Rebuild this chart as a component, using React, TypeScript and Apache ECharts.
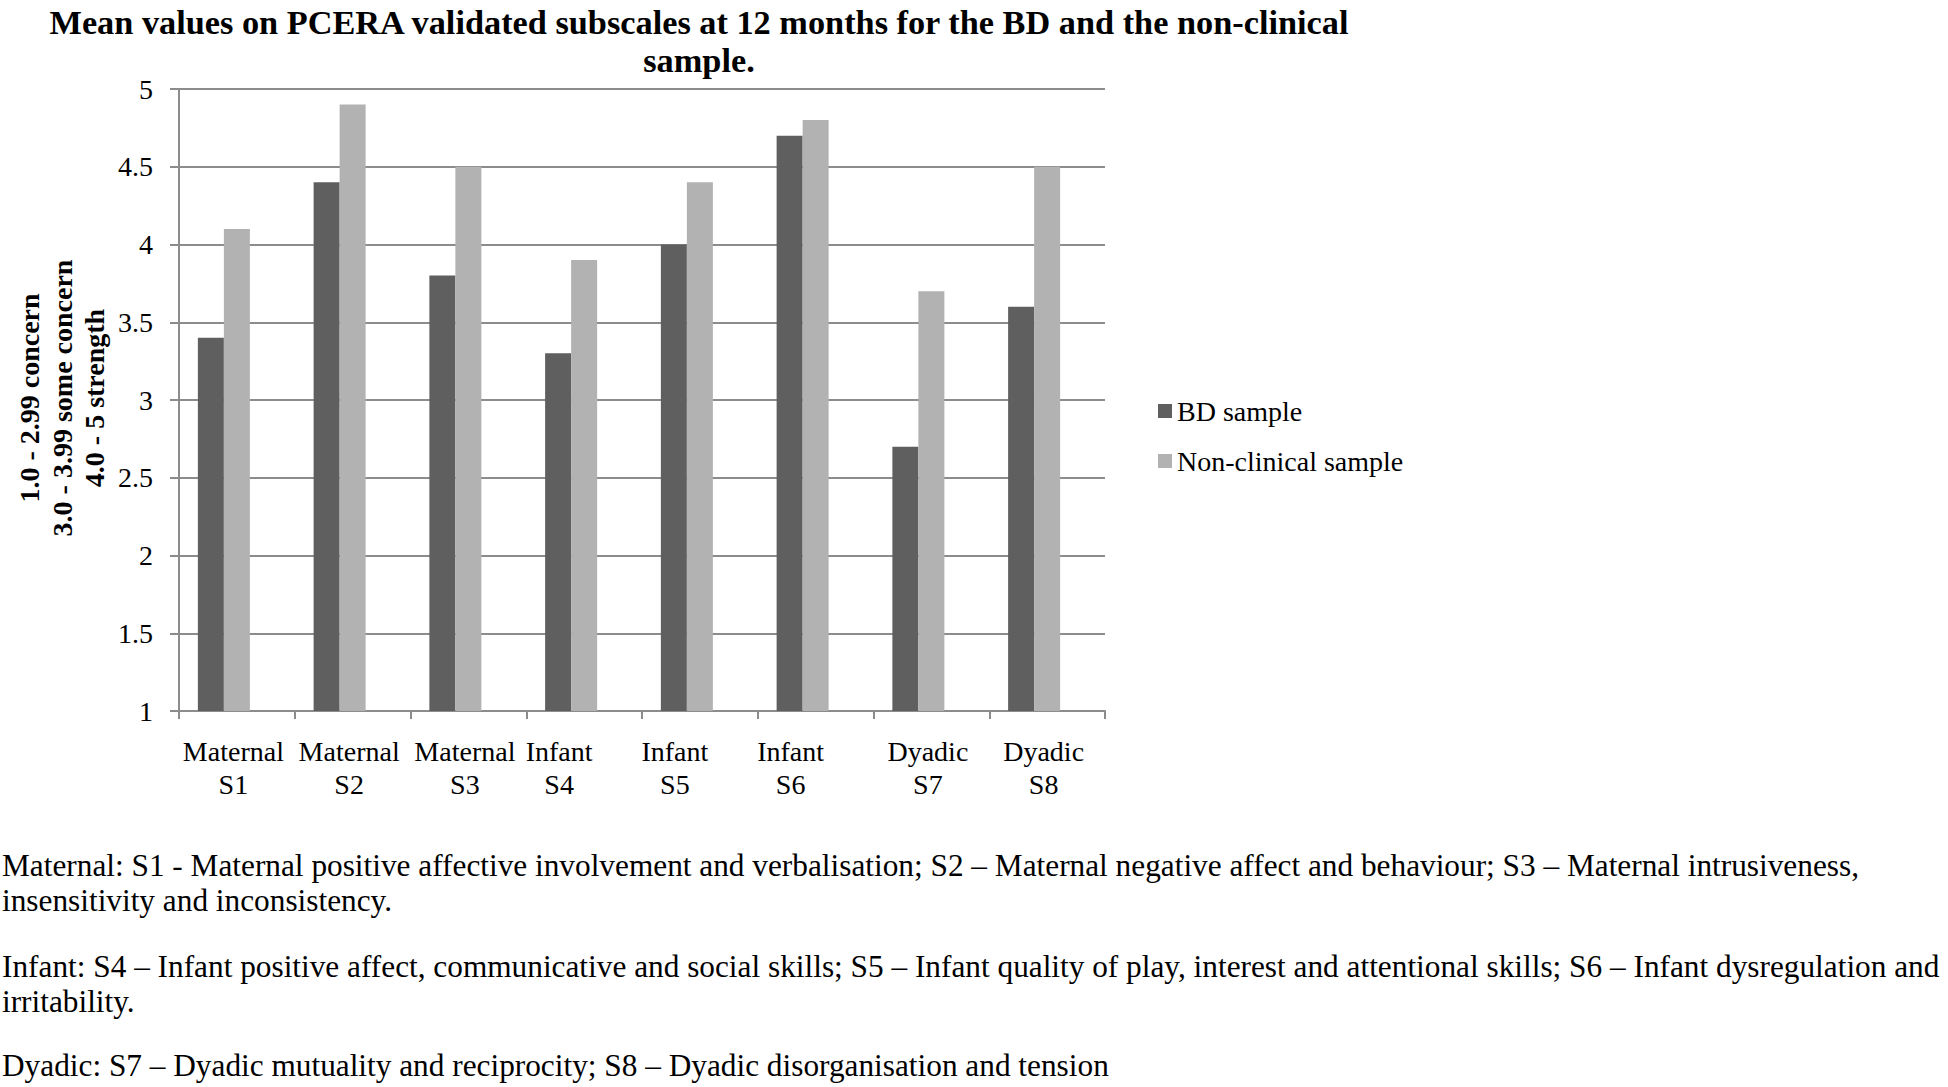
import React, { useEffect, useRef } from "react";
import * as echarts from "echarts";

const groups = ["Maternal", "Maternal", "Maternal", "Infant", "Infant", "Infant", "Dyadic", "Dyadic"];
const subscales = ["S1", "S2", "S3", "S4", "S5", "S6", "S7", "S8"];
const categories = groups.map((g, i) => g + "\n" + subscales[i]);
const bdSample = [3.4, 4.4, 3.8, 3.3, 4.0, 4.7, 2.7, 3.6];
const nonClinicalSample = [4.1, 4.9, 4.5, 3.9, 4.4, 4.8, 3.7, 4.5];
const emptySlot: (number | null)[] = [null, null, null, null, null, null, null, null];
const seriesNames = ["BD sample", "Non-clinical sample"];

const titleText = "Mean values on PCERA validated subscales at 12 months for the BD and the non-clinical\nsample.";
const yAxisName = "1.0 - 2.99 concern\n3.0 - 3.99 some concern\n4.0 - 5 strength";
const notes = [
  "Maternal: S1 - Maternal positive affective involvement and verbalisation; S2 \u2013 Maternal negative affect and behaviour; S3 \u2013 Maternal intrusiveness,\ninsensitivity and inconsistency.",
  "Infant: S4 \u2013 Infant positive affect, communicative and social skills; S5 \u2013 Infant quality of play, interest and attentional skills; S6 \u2013 Infant dysregulation and\nirritability.",
  "Dyadic: S7 \u2013 Dyadic mutuality and reciprocity; S8 \u2013 Dyadic disorganisation and tension",
];

const SERIF = "'Liberation Serif', 'Times New Roman', serif";
const GRID_COLOR = "#8c8c8c";

export default function App() {
  const ref = useRef<HTMLDivElement>(null);
  useEffect(() => {
    if (!ref.current) return;
    const chart = echarts.init(ref.current, null, { renderer: "svg" });
    const noteTops = [848, 949, 1048];
    chart.setOption({
      animation: false,
      backgroundColor: "#ffffff",
      grid: { left: 179, right: 843, top: 89, bottom: 376, containLabel: false },
      legend: {
        data: seriesNames,
        orient: "vertical",
        left: 1158,
        top: 397,
        padding: 0,
        itemWidth: 14,
        itemHeight: 14,
        itemGap: 22,
        icon: "rect",
        textStyle: { fontFamily: SERIF, fontSize: 28, color: "#000", lineHeight: 28 },
      },
      xAxis: {
        type: "category",
        data: categories,
        axisLine: { show: true, lineStyle: { color: GRID_COLOR, width: 2 } },
        axisTick: { show: true, length: 8, interval: 0, lineStyle: { color: GRID_COLOR, width: 2 } },
        axisLabel: {
          interval: 0,
          margin: 24,
          formatter: (v: string) => {
            const parts = v.split("\n");
            const key = parts[0] === "Infant" ? "inf" : "n";
            return parts.map((p) => "{" + key + "|" + p + "}").join("\n");
          },
          rich: {
            n: { fontFamily: SERIF, fontSize: 28, color: "#000", lineHeight: 33, padding: [0, 7, 0, 0] },
            inf: { fontFamily: SERIF, fontSize: 28, color: "#000", lineHeight: 33, padding: [0, 50, 0, 0] },
          },
        },
      },
      yAxis: {
        type: "value",
        min: 1,
        max: 5,
        interval: 0.5,
        axisLine: { show: true, lineStyle: { color: GRID_COLOR, width: 2 } },
        axisTick: { show: true, length: 9, lineStyle: { color: GRID_COLOR, width: 2 } },
        splitLine: { show: true, lineStyle: { color: GRID_COLOR, width: 2 } },
        axisLabel: { margin: 26, fontFamily: SERIF, fontSize: 28, color: "#000" },
      },
      series: [
        {
          name: seriesNames[0],
          type: "bar",
          data: bdSample,
          barGap: "0%",
          barCategoryGap: "32.6%",
          itemStyle: { color: "#5f5f5f" },
        },
        {
          name: seriesNames[1],
          type: "bar",
          data: nonClinicalSample,
          barGap: "0%",
          barCategoryGap: "32.6%",
          itemStyle: { color: "#b2b2b2" },
        },
        {
          name: "",
          type: "bar",
          data: emptySlot,
          barGap: "0%",
          barCategoryGap: "32.6%",
          itemStyle: { color: "rgba(0,0,0,0)" },
        },
      ],
      graphic: [
        {
          type: "text",
          x: 699,
          y: 3,
          style: {
            text: titleText,
            fontFamily: SERIF,
            fontWeight: "bold",
            fontSize: 34.3,
            lineHeight: 38,
            fill: "#000",
            textAlign: "center",
            textVerticalAlign: "top",
          },
        },
        {
          type: "text",
          x: 62,
          y: 398,
          rotation: Math.PI / 2,
          style: {
            text: yAxisName,
            fontFamily: SERIF,
            fontWeight: "bold",
            fontSize: 28,
            lineHeight: 32.5,
            fill: "#000",
            textAlign: "center",
            textVerticalAlign: "middle",
          },
        },
        ...notes.map((t, i) => ({
          type: "text",
          x: 2,
          y: noteTops[i],
          style: {
            text: t,
            fontFamily: SERIF,
            fontSize: 31.3,
            lineHeight: 35,
            fill: "#000",
            textAlign: "left",
            textVerticalAlign: "top",
          },
        })),
      ],
    });
    return () => chart.dispose();
  }, []);
  return (
    <div
      ref={ref}
      style={{ position: "fixed", left: 0, top: 0, width: 1948, height: 1087, background: "#fff" }}
    />
  );
}
